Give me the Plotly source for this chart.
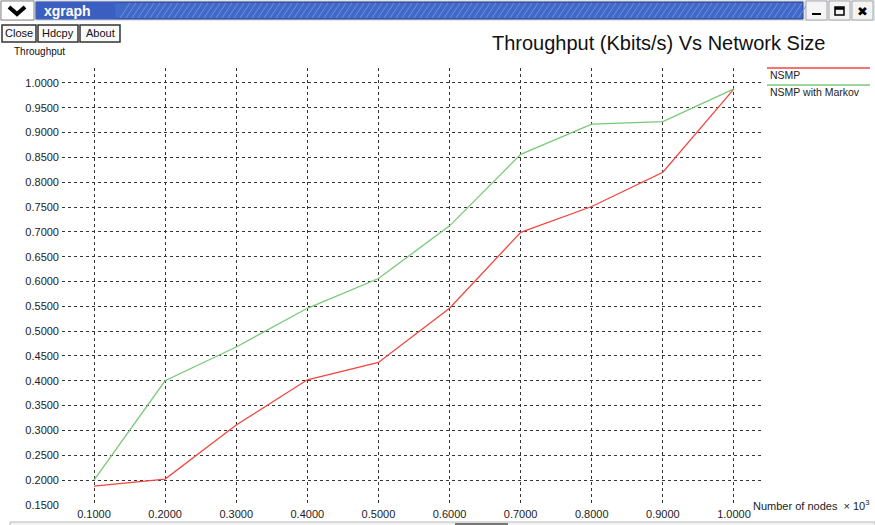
import plotly.graph_objects as go

# ---- data ----
nodes = [0.1, 0.2, 0.3, 0.4, 0.5, 0.6, 0.7, 0.8, 0.9, 1.0]
nsmp = [0.188, 0.202, 0.311, 0.402, 0.437, 0.546, 0.699, 0.751, 0.820, 0.988]
nsmp_markov = [0.200, 0.400, 0.468, 0.546, 0.606, 0.712, 0.856, 0.917, 0.922, 0.988]
series_names = ["NSMP", "NSMP with Markov"]
series_colors = ["#f2463f", "#79c879"]

W, H = 875, 525
L, R, T, B = 62, 763, 68, 505
FONT = "Liberation Sans, Arial, Helvetica, sans-serif"


def fx(px):
    return (px - L) / (R - L)


def fy(py):
    return (B - py) / (B - T)


fig = go.Figure()
for name, vals, col in zip(series_names, [nsmp, nsmp_markov], series_colors):
    fig.add_trace(go.Scatter(x=nodes, y=vals, mode="lines", name=name, hoverinfo="skip",
                             line=dict(color=col, width=1.3), showlegend=False))

shapes = []
annotations = []

# window title bar
shapes.append(dict(type="rect", xref="paper", yref="paper", x0=fx(0), x1=fx(875), y0=fy(21), y1=fy(0),
                   fillcolor="#dfe3ea", line=dict(width=0), layer="below"))
shapes.append(dict(type="rect", xref="paper", yref="paper", x0=fx(36), x1=fx(803), y0=fy(19), y1=fy(2),
                   fillcolor="#4169c8", line=dict(color="#2a3f88", width=1), layer="below"))
# hatch stripes on title bar
for sx in range(120, 800, 6):
    shapes.append(dict(type="line", xref="paper", yref="paper", x0=fx(sx), x1=fx(sx + 10),
                       y0=fy(18), y1=fy(3), line=dict(color="#6f8fe0", width=1), layer="below"))
shapes.append(dict(type="rect", xref="paper", yref="paper", x0=fx(36), x1=fx(115), y0=fy(19), y1=fy(2),
                   fillcolor="#3b5fc0", line=dict(width=0), layer="below"))
# left menu icon box
shapes.append(dict(type="rect", xref="paper", yref="paper", x0=fx(1), x1=fx(34), y0=fy(20), y1=fy(1),
                   fillcolor="#ffffff", line=dict(color="#888", width=1), layer="below"))
shapes.append(dict(type="path", xref="paper", yref="paper",
                   path=f"M {fx(9)},{fy(7)} L {fx(17)},{fy(14)} L {fx(25)},{fy(7)}",
                   line=dict(color="#000", width=4), layer="above"))
annotations.append(dict(text="<b>xgraph</b>", x=fx(42), y=fy(10.5), xref="paper", yref="paper",
                        xanchor="left", yanchor="middle", showarrow=False,
                        font=dict(family=FONT, size=14, color="white")))
# window buttons
for bx in [806, 829, 852]:
    shapes.append(dict(type="rect", xref="paper", yref="paper", x0=fx(bx), x1=fx(bx + 21), y0=fy(20), y1=fy(1),
                       fillcolor="#f4f4f4", line=dict(color="#aaa", width=1), layer="below"))
shapes.append(dict(type="rect", xref="paper", yref="paper", x0=fx(812), x1=fx(821), y0=fy(15), y1=fy(13),
                   fillcolor="#000", line=dict(width=0)))
shapes.append(dict(type="rect", xref="paper", yref="paper", x0=fx(835), x1=fx(844), y0=fy(15), y1=fy(7),
                   fillcolor="rgba(0,0,0,0)", line=dict(color="#000", width=1.5)))
shapes.append(dict(type="line", xref="paper", yref="paper", x0=fx(835), x1=fx(844), y0=fy(8.5), y1=fy(8.5),
                   line=dict(color="#000", width=2.5)))
annotations.append(dict(text="<b>✖</b>", x=fx(862.5), y=fy(11), xref="paper", yref="paper",
                        xanchor="center", yanchor="middle", showarrow=False,
                        font=dict(family="DejaVu Sans", size=13, color="#000")))

# command buttons
for label, x0, x1 in [("Close", 2, 36), ("Hdcpy", 38, 78), ("About", 80, 120)]:
    shapes.append(dict(type="rect", xref="paper", yref="paper", x0=fx(x0), x1=fx(x1), y0=fy(42), y1=fy(25),
                       fillcolor="#fafafa", line=dict(color="#333", width=1.5), layer="below"))
    annotations.append(dict(text=label, x=fx((x0 + x1) / 2), y=fy(33.5), xref="paper", yref="paper",
                            xanchor="center", yanchor="middle", showarrow=False,
                            font=dict(family=FONT, size=11, color="#111")))

annotations.append(dict(text="Throughput", x=fx(12), y=fy(52), xref="paper", yref="paper",
                        xanchor="left", yanchor="middle", showarrow=False,
                        font=dict(family=FONT, size=10, color="#111")))
annotations.append(dict(text="Throughput (Kbits/s) Vs Network Size", x=fx(658), y=fy(43), xref="paper",
                        yref="paper", xanchor="center", yanchor="middle", showarrow=False,
                        font=dict(family=FONT, size=20, color="#111")))
annotations.append(dict(text="Number of nodes  \u00d7 10<sup>3</sup>", x=fx(751), y=fy(505), xref="paper",
                        yref="paper", xanchor="left", yanchor="middle", showarrow=False,
                        font=dict(family=FONT, size=11, color="#222")))

# legend (manual)
for i, (name, col) in enumerate(zip(series_names, series_colors)):
    ly = 68 + i * 17
    shapes.append(dict(type="line", xref="paper", yref="paper", x0=fx(767), x1=fx(870), y0=fy(ly), y1=fy(ly),
                       line=dict(color=col, width=1.3)))
    annotations.append(dict(text=name, x=fx(768), y=fy(ly + 7), xref="paper", yref="paper",
                            xanchor="left", yanchor="middle", showarrow=False,
                            font=dict(family=FONT, size=10.5, color="#222")))

# bottom status panel
shapes.append(dict(type="rect", xref="paper", yref="paper", x0=fx(10), x1=fx(875), y0=fy(527), y1=fy(522),
                   fillcolor="#f2f2f2", line=dict(color="#bbb", width=1), layer="below"))
shapes.append(dict(type="rect", xref="paper", yref="paper", x0=fx(455), x1=fx(508), y0=fy(527), y1=fy(523),
                   fillcolor="#777", line=dict(width=0), layer="below"))

fig.update_layout(
    width=W, height=H,
    margin=dict(l=L, r=W - R, t=T, b=H - B, pad=0, autoexpand=False),
    paper_bgcolor="white", plot_bgcolor="white",
    shapes=shapes, annotations=annotations,
    font=dict(family=FONT, size=11, color="#222"),
    hovermode=False,
    xaxis=dict(range=[0.055, 1.0408], tick0=0.1, dtick=0.1, tickformat=".4f", automargin=False,
               showgrid=True, gridcolor="#333", griddash="dot", gridwidth=1,
               zeroline=False, showline=False, ticks="", ticklabelstandoff=1,
               tickfont=dict(family=FONT, size=11, color="#222")),
    yaxis=dict(range=[0.1498, 1.030], tick0=0.15, dtick=0.05, tickformat=".4f", automargin=False,
               showgrid=True, gridcolor="#333", griddash="dot", gridwidth=1,
               zeroline=False, showline=False, ticks="", ticklabelstandoff=2,
               tickfont=dict(family=FONT, size=11, color="#222")),
)

fig.write_html("out.html", config={"displayModeBar": False},
               post_script="document.body.style.margin='0';document.body.style.overflow='hidden';")
